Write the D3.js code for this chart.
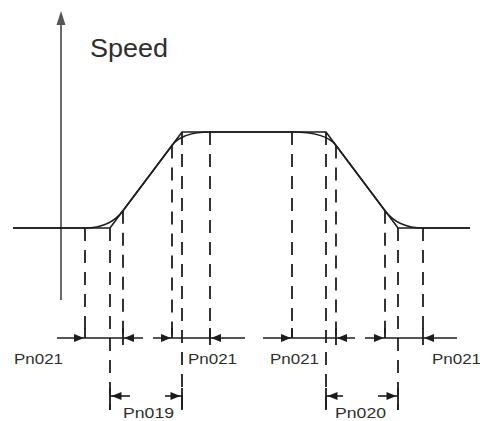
<!DOCTYPE html>
<html><head><meta charset="utf-8">
<script src="https://cdn.jsdelivr.net/npm/d3@7"></script>
<style>html,body{margin:0;padding:0;background:#fff;} svg{display:block}</style>
</head><body>
<script>
// ---- data (time in diagram units, speed normalised 0..1) ----
const axisLabel = "Speed";
const profileTimes  = [-48, 49, 121, 265, 337, 409];   // linear trapezoid
const profileSpeeds = [0, 0, 1, 1, 0, 0];
const sCurveTimes  = [-48, 24, 62, 111, 149, 231, 275, 324, 362, 409]; // S-curve tangent points
const sCurveSpeeds = [0, 0, 0.18, 0.86, 1, 1, 0.86, 0.18, 0, 0];
const pn021Label = "Pn021";
const pn021Starts = [24, 111, 231, 324];
const pn021Ends   = [62, 149, 275, 362];
const pn021LeftTails  = [-4, 92, 202, 304];
const pn021RightTails = [82, 184, 294, 396];
const pn021LabelT = [-47, 127, 209, 371];
const rampLabels = ["Pn019", "Pn020"];
const rampStarts = [49, 265];
const rampEnds   = [121, 337];
const rampLeftTails  = [69, 282];
const rampRightTails = [104, 317];
const rampLabelT = [62, 274];

// ---- layout ----
const W = 480, H = 421;
const x = d3.scaleLinear().domain([0, 100]).range([61, 161]);
const y = d3.scaleLinear().domain([0, 1]).range([228, 132]);
const dimY1 = 338, dimY2 = 396, dashBottom1 = 338, dashBottom2 = 410;
const ink = "#1c1c1c";
const dashInk = "#2a2a2a";

const svg = d3.select("body").append("svg").attr("width", W).attr("height", H);

// speed axis
svg.append("line").attr("x1", x(0)).attr("x2", x(0)).attr("y1", y(-0.75)).attr("y2", 22)
  .attr("stroke", "#6a6a6a").attr("stroke-width", 2);
svg.append("path").attr("d", `M${x(0)},11 L${x(0)-4.5},25 L${x(0)+4.5},25 Z`).attr("fill", "#555");
svg.append("text").attr("x", 90).attr("y", 57).text(axisLabel)
  .attr("font-family", "Liberation Sans, Arial, sans-serif").attr("font-size", 25)
  .attr("textLength", 78).attr("lengthAdjust", "spacingAndGlyphs").attr("fill", "#2e2e2e");

// dashed verticals
const dashSpec = [];
const sAt = t => sCurveSpeeds[sCurveTimes.indexOf(t)];
pn021Starts.concat(pn021Ends).forEach(t => dashSpec.push({t, v: sAt(t), bottom: dashBottom1}));
rampStarts.concat(rampEnds).forEach(t => dashSpec.push({t, v: profileSpeeds[profileTimes.indexOf(t)], bottom: dashBottom2}));
svg.selectAll("line.dash").data(dashSpec).join("line").attr("class", "dash")
  .attr("x1", d => x(d.t)).attr("x2", d => x(d.t))
  .attr("y1", d => y(d.v)).attr("y2", d => d.bottom)
  .attr("stroke", dashInk).attr("stroke-width", 1.9).attr("stroke-dasharray", "13,9");

// linear profile
const line = d3.line().x(d => x(d[0])).y(d => y(d[1]));
svg.append("path").attr("d", line(profileTimes.map((t, i) => [t, profileSpeeds[i]])))
  .attr("fill", "none").attr("stroke", ink).attr("stroke-width", 1.6);

// S-curve (quadratic blends using trapezoid corners as control points)
const P = i => [x(sCurveTimes[i]), y(sCurveSpeeds[i])];
const C = i => [x(profileTimes[i]), y(profileSpeeds[i])];
const p = d3.path();
p.moveTo(...P(0)); p.lineTo(...P(1));
p.quadraticCurveTo(...C(1), ...P(2)); p.lineTo(...P(3));
p.quadraticCurveTo(...C(2), ...P(4)); p.lineTo(...P(5));
p.quadraticCurveTo(...C(3), ...P(6)); p.lineTo(...P(7));
p.quadraticCurveTo(...C(4), ...P(8)); p.lineTo(...P(9));
svg.append("path").attr("d", p.toString()).attr("fill", "none").attr("stroke", ink).attr("stroke-width", 1.6);

function arrow(tip, yy, dir) {
  svg.append("path").attr("d", `M${tip},${yy} L${tip - dir*10},${yy-4} L${tip - dir*10},${yy+4} Z`).attr("fill", ink);
}
const font = "Liberation Sans, Arial, sans-serif";

// Pn021 dimensions
pn021Starts.forEach((s, i) => {
  const e = pn021Ends[i];
  svg.append("line").attr("x1", x(pn021LeftTails[i])).attr("x2", x(pn021RightTails[i]))
    .attr("y1", dimY1).attr("y2", dimY1).attr("stroke", ink).attr("stroke-width", 1.6);
  arrow(x(s) - 1, dimY1, 1);
  arrow(x(e) + 1, dimY1, -1);
  svg.append("line").attr("x1", x(s)).attr("x2", x(s)).attr("y1", dimY1 - 10).attr("y2", dimY1).attr("stroke", ink).attr("stroke-width", 1.8);
  svg.append("line").attr("x1", x(e)).attr("x2", x(e)).attr("y1", dimY1 - 10).attr("y2", dimY1 + 7).attr("stroke", ink).attr("stroke-width", 1.8);
  svg.append("text").attr("x", x(pn021LabelT[i])).attr("y", 364).text(pn021Label)
    .attr("font-family", font).attr("font-size", 15).attr("textLength", 49)
    .attr("lengthAdjust", "spacingAndGlyphs").attr("fill", "#2e2e2e");
});

// Pn019 / Pn020 dimensions
rampStarts.forEach((s, i) => {
  const e = rampEnds[i];
  svg.append("line").attr("x1", x(rampLeftTails[i])).attr("x2", x(s)).attr("y1", dimY2).attr("y2", dimY2).attr("stroke", ink).attr("stroke-width", 1.6);
  svg.append("line").attr("x1", x(rampRightTails[i])).attr("x2", x(e)).attr("y1", dimY2).attr("y2", dimY2).attr("stroke", ink).attr("stroke-width", 1.6);
  arrow(x(s) + 1.5, dimY2, -1);
  arrow(x(e) - 1.5, dimY2, 1);
  [s, e].forEach(t => svg.append("line").attr("x1", x(t)).attr("x2", x(t)).attr("y1", dimY2 - 8).attr("y2", dimY2 + 14).attr("stroke", ink).attr("stroke-width", 1.8));
  svg.append("text").attr("x", x(rampLabelT[i])).attr("y", 418).text(rampLabels[i])
    .attr("font-family", font).attr("font-size", 15).attr("textLength", 51)
    .attr("lengthAdjust", "spacingAndGlyphs").attr("fill", "#2e2e2e");
});
</script>
</body></html>
